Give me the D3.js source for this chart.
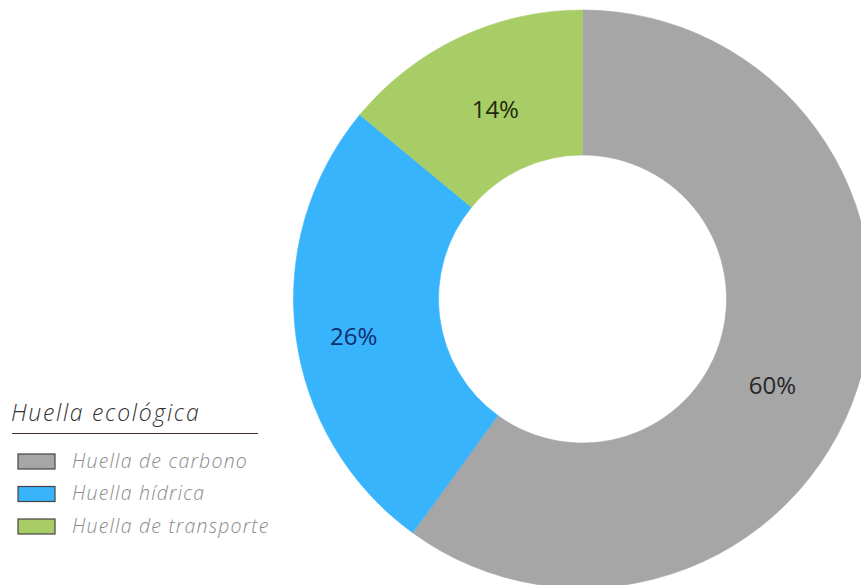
<!DOCTYPE html>
<html>
<head>
<meta charset="utf-8">
<script src="https://cdn.jsdelivr.net/npm/d3@7"></script>
<style>
  body { margin: 0; background: #fff; }
</style>
</head>
<body>
<div id="chart"></div>
<script>
// data
var categories = ["Huella de carbono", "Huella hídrica", "Huella de transporte"];
var values = [60, 26, 14];
var colors = ["#a6a6a6", "#38b4fd", "#a9cd66"];
var labelColors = ["#262626", "#0d2f6e", "#1d2b10"];
var legendTitle = "Huella ecológica";

var width = 861, height = 585;

var svg = d3.select("#chart")
  .append("svg")
    .attr("width", width)
    .attr("height", height);

// donut
var outerR = 289, innerR = 144;
var g = svg.append("g")
  .attr("transform", "translate(" + 582.5 + "," + 299 + ")");

var pie = d3.pie().sort(null).value(function(d) { return d; });
var arc = d3.arc().innerRadius(innerR).outerRadius(outerR);
var arcs = pie(values);

g.selectAll("path")
  .data(arcs)
  .enter()
  .append("path")
    .attr("d", arc)
    .style("fill", function(d, i) { return colors[i]; })
    .style("stroke", function(d, i) { return colors[i]; })
    .style("stroke-width", 0.6);

// small nudges so the labels sit like the original ones
var nudge = [[-16, 20], [-14, 10], [5, 6]];

g.selectAll("text")
  .data(arcs)
  .enter()
  .append("text")
    .attr("transform", function(d, i) {
      var c = arc.centroid(d);
      return "translate(" + (c[0] + nudge[i][0]) + "," + (c[1] + nudge[i][1]) + ")";
    })
    .attr("dy", "0.35em")
    .style("text-anchor", "middle")
    .style("font-family", "'Open Sans', sans-serif")
    .style("font-size", "24px")
    .style("fill", function(d, i) { return labelColors[i]; })
    .text(function(d) { return d.data + "%"; });

// legend
var legend = svg.append("g").attr("transform", "translate(11,0)");

legend.append("text")
  .attr("x", 0)
  .attr("y", 421)
  .style("font-family", "'Open Sans', sans-serif")
  .style("font-style", "italic")
  .style("font-weight", 300)
  .style("font-size", "23px")
  .style("letter-spacing", "1.7px")
  .style("fill", "#333")
  .text(legendTitle);

legend.append("line")
  .attr("x1", 1).attr("x2", 247)
  .attr("y1", 433.5).attr("y2", 433.5)
  .style("stroke", "#3b2e28")
  .style("stroke-width", 1.2);

var rowY = d3.scalePoint().domain(categories).range([461, 526]);

var item = legend.selectAll(".item")
  .data(categories)
  .enter()
  .append("g")
    .attr("class", "item")
    .attr("transform", function(d) { return "translate(0," + rowY(d) + ")"; });

item.append("rect")
  .attr("x", 7).attr("y", -7)
  .attr("width", 37).attr("height", 15)
  .style("fill", function(d, i) { return colors[i]; })
  .style("stroke", "#444")
  .style("stroke-width", 1.2);

item.append("text")
  .attr("x", 61)
  .attr("dy", "0.35em")
  .style("font-family", "'Open Sans', sans-serif")
  .style("font-style", "italic")
  .style("font-weight", 300)
  .style("font-size", "19.5px")
  .style("letter-spacing", "1.2px")
  .style("fill", "#8a8a8a")
  .text(function(d) { return d; });
</script>
</body>
</html>
